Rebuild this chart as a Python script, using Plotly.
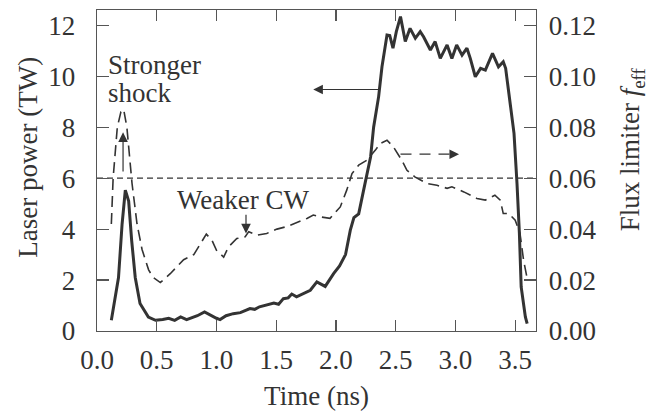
import plotly.graph_objects as go

# Laser power (TW) vs time (ns) -- solid curve
power_time = [0.12, 0.15, 0.18, 0.21, 0.237, 0.265, 0.29, 0.32, 0.36, 0.43, 0.49,
              0.55, 0.60, 0.65, 0.70, 0.75, 0.80, 0.84, 0.90, 0.95, 1.00, 1.03, 1.08,
              1.14, 1.20, 1.28, 1.32, 1.36, 1.42, 1.48, 1.52, 1.56, 1.60, 1.63, 1.67,
              1.72, 1.785, 1.84, 1.87, 1.91, 1.98, 2.03, 2.08, 2.12, 2.15, 2.19, 2.23,
              2.29, 2.315, 2.357, 2.385, 2.40, 2.427, 2.45, 2.477, 2.505, 2.54, 2.58,
              2.62, 2.664, 2.705, 2.733, 2.79, 2.83, 2.873, 2.93, 2.97, 3.01, 3.055,
              3.096, 3.124, 3.166, 3.21, 3.25, 3.31, 3.36, 3.40, 3.42, 3.445, 3.49,
              3.515, 3.535, 3.55, 3.585, 3.60]
power_tw = [0.42, 1.2, 2.1, 4.2, 5.53, 5.1, 3.56, 2.1, 1.08, 0.55, 0.42,
            0.45, 0.50, 0.42, 0.55, 0.45, 0.52, 0.60, 0.75, 0.62, 0.50, 0.45, 0.60,
            0.68, 0.72, 0.88, 0.85, 0.95, 1.01, 1.10, 1.05, 1.27, 1.30, 1.45, 1.34,
            1.45, 1.60, 1.93, 1.85, 1.75, 2.25, 2.55, 3.00, 3.96, 4.45, 4.60, 5.50,
            6.84, 8.00, 9.20, 10.37, 10.83, 11.62, 11.60, 11.10, 11.75, 12.34, 11.36,
            11.88, 11.49, 11.75, 11.55, 11.03, 11.36, 10.70, 11.23, 10.70, 11.23, 10.83,
            11.10, 10.70, 9.98, 10.31, 10.24, 10.90, 10.37, 10.57, 10.31, 9.39, 7.76,
            5.79, 3.83, 1.73, 0.55, 0.29]

# Flux limiter f_eff vs time (ns) -- dashed curve
flux_time = [0.12, 0.135, 0.17, 0.20, 0.223, 0.25, 0.293, 0.335, 0.377, 0.432, 0.47,
             0.53, 0.613, 0.725, 0.81, 0.865, 0.915, 0.962, 1.00, 1.06, 1.10, 1.17,
             1.24, 1.27, 1.34, 1.42, 1.506, 1.59, 1.645, 1.757, 1.81, 1.87, 1.95,
             2.036, 2.09, 2.134, 2.19, 2.26, 2.33, 2.37, 2.427, 2.48, 2.55, 2.594,
             2.66, 2.76, 2.845, 2.93, 2.97, 3.07, 3.18, 3.25, 3.33, 3.375, 3.40,
             3.445, 3.50, 3.54, 3.57, 3.60]
flux_f = [0.042, 0.060, 0.080, 0.086, 0.087, 0.080, 0.058, 0.042, 0.032, 0.024, 0.021,
          0.019, 0.0225, 0.028, 0.030, 0.034, 0.038, 0.0356, 0.0317, 0.029, 0.033, 0.0363,
          0.037, 0.039, 0.0376, 0.0383, 0.040, 0.041, 0.042, 0.0442, 0.0455, 0.0448, 0.0442,
          0.0487, 0.0553, 0.0618, 0.0651, 0.0671, 0.071, 0.0736, 0.0749, 0.0723, 0.0671, 0.0631,
          0.0605, 0.0579, 0.0572, 0.056, 0.0566, 0.0546, 0.052, 0.0514, 0.0533, 0.0514, 0.0461,
          0.0461, 0.0435, 0.0383, 0.0278, 0.0206]

reference_flux = 0.06
x_extent = [0.0, 3.674]

x_ticks = [0.0, 0.5, 1.0, 1.5, 2.0, 2.5, 3.0, 3.5]
power_ticks = [0, 2, 4, 6, 8, 10, 12]
flux_ticks = [0.00, 0.02, 0.04, 0.06, 0.08, 0.10, 0.12]

INK = "#333333"
AXIS = "#555555"
FONT = "Liberation Serif, Times New Roman, serif"
FS = 27
TXT = dict(family=FONT, size=FS, color=INK)

fig = go.Figure()

fig.add_trace(go.Scatter(
    x=x_extent, y=[reference_flux, reference_flux], yaxis="y2", mode="lines",
    line=dict(color=INK, width=1.2, dash="6px,4px"), hoverinfo="skip", showlegend=False))

fig.add_trace(go.Scatter(
    x=flux_time, y=flux_f, yaxis="y2", mode="lines",
    line=dict(color=INK, width=1.6, dash="11px,6px"), showlegend=False))

fig.add_trace(go.Scatter(
    x=power_time, y=power_tw, yaxis="y", mode="lines",
    line=dict(color=INK, width=3), showlegend=False))

annotations = []

def arrow(x_head, y_head, x_tail, y_tail):
    annotations.append(dict(
        x=x_head, y=y_head, ax=x_tail, ay=y_tail, xref="x", yref="y",
        axref="x", ayref="y", text="", showarrow=True, arrowhead=2,
        arrowsize=1.6, arrowwidth=1.2, arrowcolor=INK, standoff=0, startstandoff=0))

arrow(0.218, 7.8, 0.218, 6.2)      # stronger shock
arrow(1.247, 3.83, 1.247, 4.62)    # weaker CW
arrow(1.81, 9.48, 2.37, 9.48)      # solid -> left axis
arrow(3.03, 6.94, 2.99, 6.94)      # dashed -> right axis (head)

# dashed shaft of right arrow
fig.add_trace(go.Scatter(
    x=[2.54, 3.0], y=[6.94, 6.94], yaxis="y", mode="lines",
    line=dict(color=INK, width=1.2, dash="11px,8px"), hoverinfo="skip", showlegend=False))

def label(text, x, y, xanchor="left"):
    annotations.append(dict(
        x=x, y=y, xref="x", yref="y", text=text, showarrow=False,
        xanchor=xanchor, yanchor="middle", font=TXT))

label("Stronger", 0.075, 10.45)
label("shock", 0.075, 9.35)
label("Weaker CW", 1.23, 5.13, xanchor="center")

# y-axis titles as rotated paper-anchored text
annotations.append(dict(x=-0.157, y=0.54, xref="paper", yref="paper",
                        text="Laser power (TW)", textangle=-90, showarrow=False,
                        xanchor="center", yanchor="middle", font=TXT))
annotations.append(dict(x=1.218, y=0.565, xref="paper", yref="paper",
                        text="Flux limiter <i>f</i><sub>eff</sub>", textangle=-90,
                        showarrow=False, xanchor="center", yanchor="middle", font=TXT))

common = dict(ticks="inside", tickwidth=1.2, tickcolor=AXIS, showline=True,
              linecolor=AXIS, linewidth=1.3, showgrid=False, zeroline=False,
              automargin=False, tickfont=TXT)

fig.update_layout(
    width=650, height=411,
    margin=dict(l=97, r=114, t=10, b=80, autoexpand=False),
    paper_bgcolor="white", plot_bgcolor="white",
    font=TXT,
    annotations=annotations,
    xaxis=dict(range=x_extent, tickvals=x_ticks, tickformat=".1f", ticklen=11,
               mirror="ticks", ticklabelstandoff=4,
               title=dict(text="Time (ns)", standoff=13, font=TXT), **common),
    yaxis=dict(range=[0, 12.6], tickvals=power_ticks, ticklen=12,
               ticklabelstandoff=15, **common),
    yaxis2=dict(range=[0, 0.126], tickvals=flux_ticks, tickformat=".2f",
                overlaying="y", side="right", ticklen=12, ticklabelstandoff=6,
                **common),
)

fig.write_html(
    "out.html",
    config={"displayModeBar": False, "staticPlot": True},
    post_script="document.body.style.margin='0';document.body.style.padding='0';"
                "document.body.style.overflow='hidden';",
)
